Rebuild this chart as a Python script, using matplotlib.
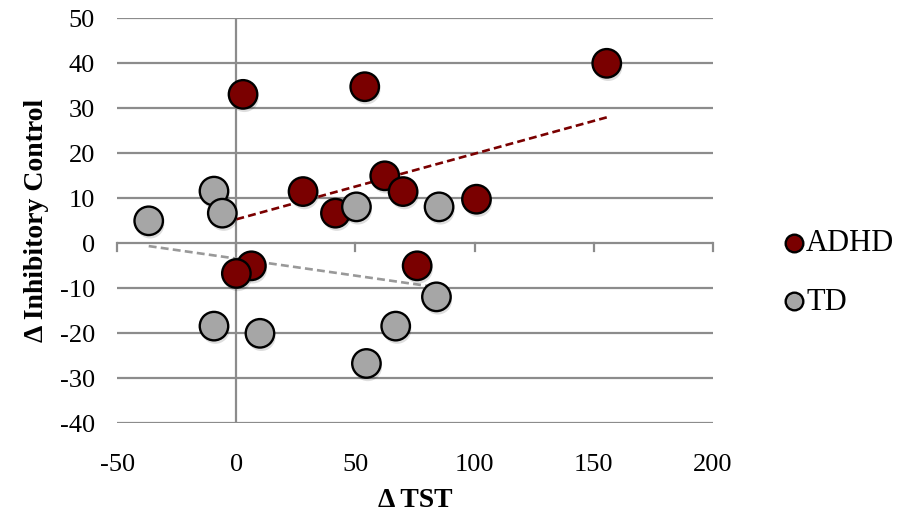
import matplotlib

matplotlib.use("Agg")
import matplotlib.patheffects as pe
import matplotlib.pyplot as plt
import numpy as np

# values
adhd_tst = [2.8, 53.9, 28.0, 41.6, 62.3, 70.0, 100.8, 155.5, 6.3, 0.0, 75.9]
adhd_ic = [33.1, 34.8, 11.5, 6.7, 15.0, 11.5, 9.8, 40.0, -5.0, -6.7, -5.0]
td_tst = [-36.8, -9.4, -5.9, 50.4, 85.1, 84.0, -9.4, 9.9, 66.9, 54.6]
td_ic = [5.0, 11.6, 6.7, 8.1, 8.1, -11.9, -18.4, -20.0, -18.4, -26.7]
x_ticks = [-50, 0, 50, 100, 150, 200]
y_ticks = [-40, -30, -20, -10, 0, 10, 20, 30, 40, 50]

ADHD_COLOR = "#7a0000"
TD_COLOR = "#a6a6a6"
GRID_COLOR = "#8c8c8c"

plt.rcParams["font.family"] = ["Liberation Serif", "DejaVu Serif"]
plt.rcParams["axes.unicode_minus"] = False

fig = plt.figure(figsize=(8.98, 5.23), dpi=100)
ax = fig.add_axes([0.1306, 0.1906, 0.6631, 0.7744])
ax.set_xlim(-50, 200)
ax.set_ylim(-40, 50)

# horizontal gridlines only
for y in y_ticks:
    if y != 0:
        ax.axhline(y, color=GRID_COLOR, lw=1.6, zorder=1)
# axes crossing at zero
ax.axhline(0, color=GRID_COLOR, lw=1.6, zorder=1)
ax.axvline(0, color=GRID_COLOR, lw=1.6, zorder=1)
for xt in x_ticks:
    ax.plot([xt, xt], [0, -1.6], color=GRID_COLOR, lw=1.6, zorder=1, clip_on=False)

for side in ax.spines.values():
    side.set_visible(False)
ax.set_xticks(x_ticks)
ax.set_yticks(y_ticks)
ax.tick_params(length=0, labelsize=19)
ax.tick_params(axis="x", pad=22)
ax.tick_params(axis="y", pad=16)

# linear trend lines (Excel style, spanning each group's x range)
for xs, ys, col in ((adhd_tst, adhd_ic, ADHD_COLOR), (td_tst, td_ic, "#999999")):
    m, b = np.polyfit(xs, ys, 1)
    xr = np.array([min(xs), max(xs)])
    ax.plot(xr, m * xr + b, ls=(0, (3, 1.6)), color=col, lw=1.9, zorder=2)

shadow = [pe.SimplePatchShadow(offset=(1, -2.5), shadow_rgbFace="black", alpha=0.13), pe.Normal()]
ax.scatter(adhd_tst, adhd_ic, s=420, color=ADHD_COLOR, edgecolor="black",
           linewidth=1.7, zorder=3, label="ADHD", path_effects=shadow)
ax.scatter(td_tst, td_ic, s=420, color=TD_COLOR, edgecolor="black",
           linewidth=1.7, zorder=3, label="TD", path_effects=shadow)

ax.set_xlabel("Δ TST", fontsize=20, fontweight="bold", labelpad=9)
ax.set_ylabel("Δ Inhibitory Control", fontsize=20, fontweight="bold", labelpad=8)

leg = ax.legend(loc="center left", bbox_to_anchor=(0.874, 0.478), bbox_transform=fig.transFigure,
                frameon=False, fontsize=22, markerscale=0.62, handlelength=0.6,
                handletextpad=0.1, labelspacing=0.95, borderaxespad=0, borderpad=0)
for h in leg.legend_handles:
    h.set_path_effects([])

fig.savefig("out.png", dpi=100)
